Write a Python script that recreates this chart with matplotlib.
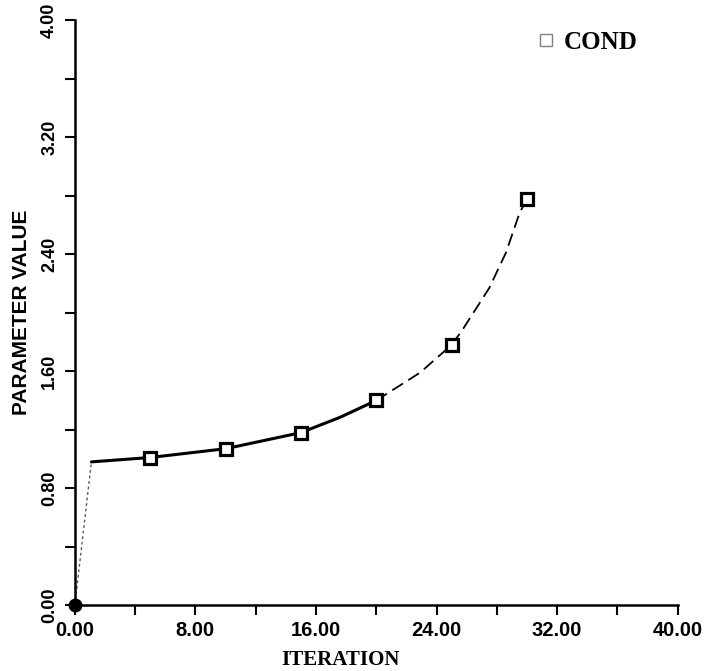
import matplotlib
matplotlib.use("agg")
import matplotlib.pyplot as plt
from matplotlib.lines import Line2D
from matplotlib.ticker import MultipleLocator, FormatStrFormatter

# COND parameter per iteration
iters = [5, 10, 15, 20, 25, 30]
cond = [1.01, 1.07, 1.18, 1.40, 1.78, 2.78]

# fitted curve
curve_x = [1.1, 5, 10, 15, 17.6, 20, 22.9, 25, 25.7, 27.5, 28.6, 29.5, 30]
curve_y = [0.98, 1.01, 1.07, 1.18, 1.285, 1.40, 1.59, 1.78, 1.88, 2.17, 2.41, 2.68, 2.78]
split = 5  # solid up to iteration 20, dashed afterwards

start_x = [0, 1.1]
start_y = [0, 0.98]

sans = ['Liberation Sans', 'DejaVu Sans']
serif = ['Liberation Serif', 'DejaVu Serif']

fig = plt.figure(figsize=(7.06, 6.71), dpi=100)
ax = fig.add_axes([0.106, 0.098, 0.854, 0.872])

ax.plot(start_x, start_y, color='0.35', lw=1.0, ls=(0, (2, 2)), clip_on=False)
ax.plot(curve_x[:split + 1], curve_y[:split + 1], color='black', lw=2.2,
        solid_capstyle='round')
ax.plot(curve_x[split:], curve_y[split:], color='black', lw=1.3, ls=(0, (7, 3.5)))
ax.plot(iters, cond, ls='none', marker='s', ms=9, mfc='white', mec='black',
        mew=2.3, zorder=5)
ax.plot([0], [0], ls='none', marker='o', ms=9, color='black', clip_on=False,
        zorder=6)

ax.set_xlim(0, 40)
ax.set_ylim(0, 4)
for side in ('top', 'right'):
    ax.spines[side].set_visible(False)
for side in ('left', 'bottom'):
    ax.spines[side].set_linewidth(1.8)

ax.xaxis.set_major_locator(MultipleLocator(8))
ax.xaxis.set_minor_locator(MultipleLocator(4))
ax.yaxis.set_major_locator(MultipleLocator(0.8))
ax.yaxis.set_minor_locator(MultipleLocator(0.4))
ax.xaxis.set_major_formatter(FormatStrFormatter('%.2f'))
ax.yaxis.set_major_formatter(FormatStrFormatter('%.2f'))
ax.tick_params(which='both', direction='out', length=7, width=1.5, color='black')
ax.tick_params(axis='x', pad=4)
ax.tick_params(axis='y', pad=5)

for lab in ax.get_xticklabels():
    lab.set_family(sans)
    lab.set_fontsize(14.5)
    lab.set_fontweight('bold')
for lab in ax.get_yticklabels():
    lab.set_family(sans)
    lab.set_fontsize(13)
    lab.set_fontweight('bold')
    lab.set_rotation(90)
    lab.set_verticalalignment('center')

ax.set_xlabel('ITERATION', family=serif, fontsize=15, fontweight='bold')
ax.xaxis.set_label_coords(0.44, -0.077)
ax.set_ylabel('PARAMETER VALUE', family=sans, fontsize=15, fontweight='bold')
ax.yaxis.set_label_coords(-0.072, 0.5)

handle = Line2D([], [], ls='none', marker='s', ms=8, mfc='none', mec='0.5',
                mew=1.0)
ax.legend([handle], ['COND'], loc='upper right', bbox_to_anchor=(0.97, 1.02),
          frameon=False, handletextpad=0.3, handlelength=0.8,
          prop={'family': serif, 'weight': 'bold', 'size': 18})

fig.savefig('out.png', dpi=100)
